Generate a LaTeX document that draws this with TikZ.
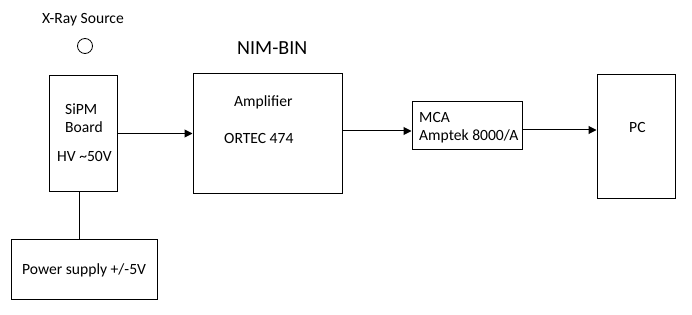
\documentclass[tikz,border=0pt]{standalone}
\usepackage{fontspec}
\setmainfont{Carlito}
\usetikzlibrary{arrows.meta}
\begin{document}
\begin{tikzpicture}[x=1pt,y=-1pt,
  box/.style={draw, line width=1pt, inner sep=0pt},
  lbl/.style={font=\fontsize{15.6}{18}\selectfont, inner sep=0pt, anchor=base west},
  title/.style={font=\fontsize{20}{24}\selectfont, inner sep=0pt, anchor=base west},
  link/.style={line width=1pt, -{Triangle[length=8pt,width=8pt]}},
  wire/.style={line width=1pt}]
\useasboundingbox (0,0) rectangle (692,315);

% blocks
\node[box, minimum width=68pt, minimum height=115pt] (sipm) at (83,133.5) {};
\node[box, minimum width=149pt, minimum height=119pt] (amp) at (267.5,133.5) {};
\node[box, minimum width=110pt, minimum height=48pt] (mca) at (467,126) {};
\node[box, minimum width=78pt, minimum height=123pt] (pc) at (636,136.5) {};
\node[box, minimum width=146pt, minimum height=60pt] (power) at (84,269) {};
\node[draw, circle, line width=0.8pt, minimum size=15pt, inner sep=0pt] (src) at (85,46) {};

% labels
\node[lbl] (srclbl) at (42,24) {X-Ray Source};
\node[title] (bin) at (237,55) {NIM-BIN};
\node[lbl] (sipm1) at (65,115) {SiPM};
\node[lbl] (sipm2) at (65,133) {Board};
\node[lbl] (sipm3) at (57,161) {HV \textasciitilde 50V};
\node[lbl] (amp1) at (234,107) {Amplifier};
\node[lbl] (amp2) at (224,143) {ORTEC 474};
\node[lbl] (mca1) at (419,123) {MCA};
\node[lbl] (mca2) at (419,141) {Amptek 8000/A};
\node[lbl] (pc1) at (629,133) {PC};
\node[lbl] (pow1) at (22,274) {Power supply +/-5V};

% signal chain
\draw[link] (sipm.east) -- (amp.west);
\draw[link] ([yshift=2.5pt]amp.east) -- ([yshift=-5pt]mca.west);
\draw[link] ([yshift=-4pt]mca.east) -- ([yshift=6.5pt]pc.west);

% supply line
\coordinate (tap) at ([xshift=-4pt]sipm.south);
\draw[wire] (tap) -- (tap |- power.north);
\end{tikzpicture}
\end{document}
